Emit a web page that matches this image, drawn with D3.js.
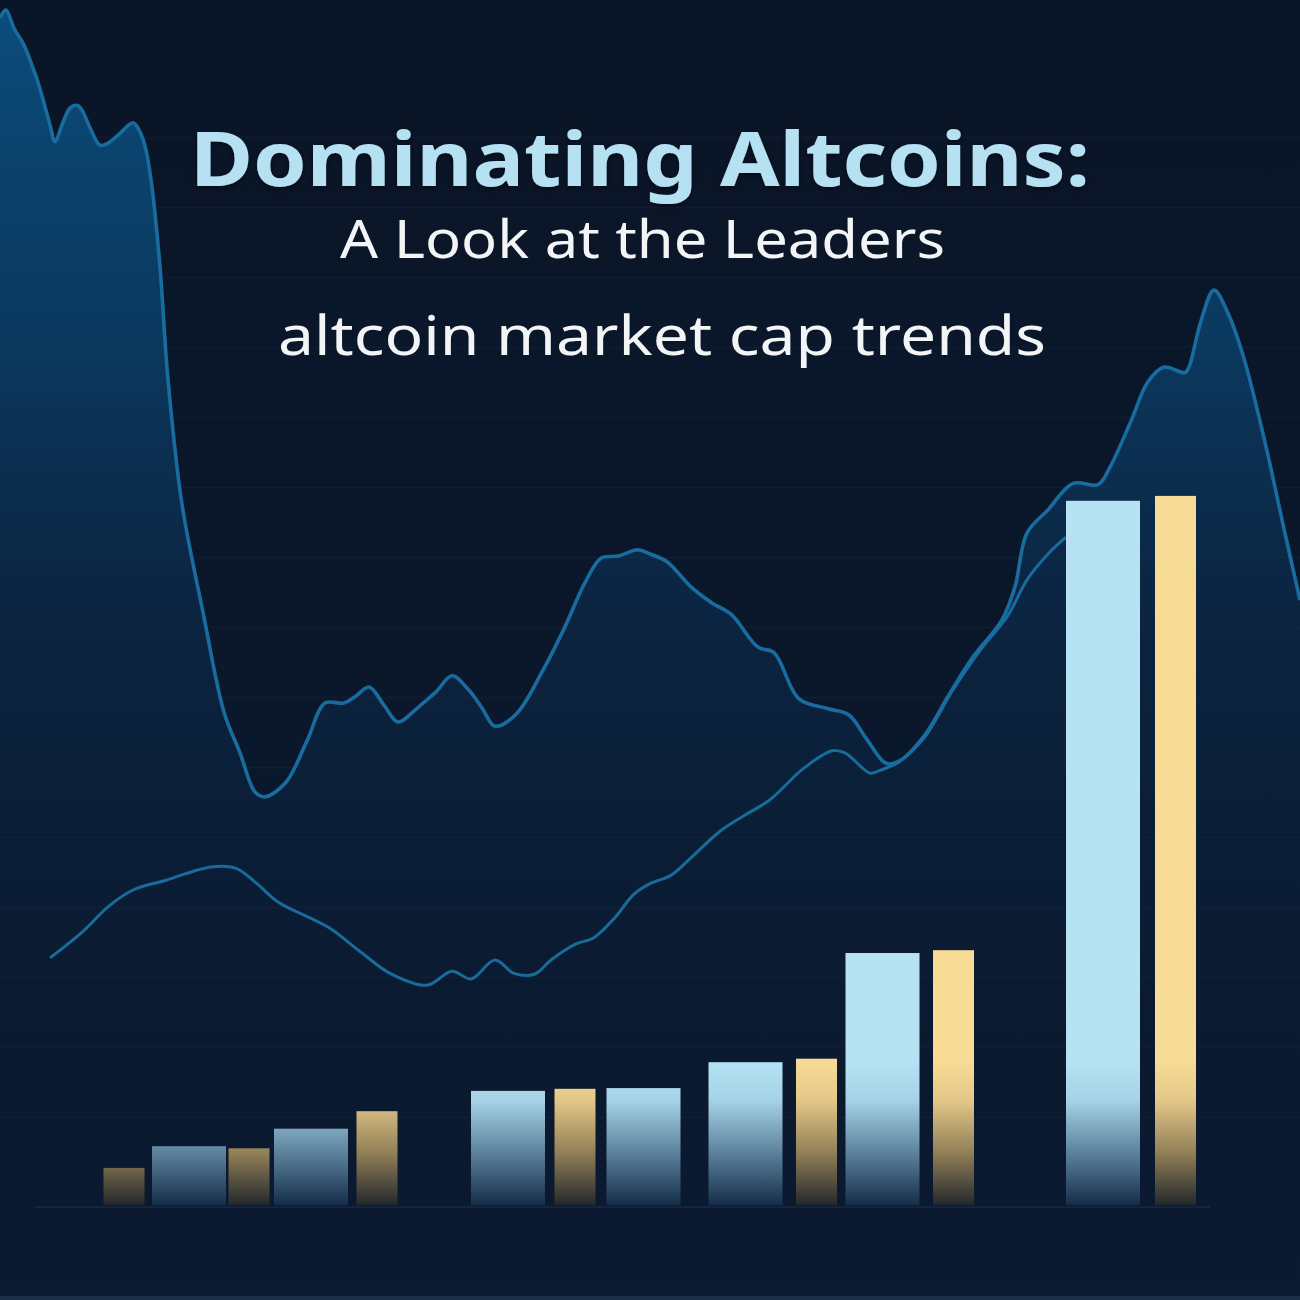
<!DOCTYPE html>
<html>
<head>
<meta charset="utf-8">
<script src="https://cdn.jsdelivr.net/npm/d3@7"></script>
<style>
  html, body { margin: 0; padding: 0; background: #0a1628; }
  svg { display: block; }
</style>
</head>
<body>
<svg id="chart" width="1300" height="1300"></svg>
<script>
// ---------------- DATA ----------------
// x: period index (weeks), y: market-cap index
const lineAPeriods = [0,0.6,1.4,2.4,3.3,3.8,4.4,5.0,5.5,6.2,7.0,7.7,8.2,9.0,10.0,10.8,12.0,13.3,14.0,14.6,15.2,16.0,16.8,18.2,20.3,22.4,24.0,25.5,26.5,28.6,30.7,32.5,34.4,35.5,36.9,38.4,39.8,41.5,42.3,43.6,45.2,46.8,48.2,49.5,51.6,54.3,56.4,58.5,60.1,61.8,63.8,65.0,66.7,69.1,71.2,73.1,75.8,77.4,79.9,82.8,84.9,86.6,88.6,89.9,92.4,94.9,97.3,100.2,101.5,102.7,104.8,107.3,109.8,111.0,113.1,114.8,116.4,118.5,118.9,120.1,121.4,122.8,124.3,126.4,128.4,130.0];
const lineAValues  = [169.6,170.7,168.1,165.7,162.4,160.4,157.4,154.3,151.9,154.3,156.7,157.1,156.4,153.9,151.4,151.7,153.1,154.6,153.3,150.7,145.4,134.0,117.9,100.1,84.7,70.4,64.6,59.0,58.3,60.4,66.3,71.7,71.7,72.6,74.0,71.4,69.0,70.7,71.7,73.3,75.6,73.7,71.0,68.4,70.1,76.4,82.3,88.9,92.4,92.7,93.6,93.0,91.9,88.3,86.0,84.4,79.7,78.9,72.3,70.9,70.0,66.7,63.1,63.4,67.0,72.9,78.3,83.6,88.3,96.0,99.3,103.1,102.9,105.4,112.0,117.6,119.7,118.9,119.7,126.3,130.7,127.4,121.4,109.6,96.6,86.4];

const lineBPeriods = [5.0,8.3,10.8,13.3,16.6,21.1,23.6,25.7,27.8,32.8,36.1,39.0,42.7,45.2,47.1,49.5,51.4,53.5,55.1,57.6,59.3,61.4,63.4,65.0,67.1,69.1,72.0,74.5,77.0,80.3,83.2,84.5,87.0,88.0,89.9,92.4,95.3,98.2,100.7,102.7,104.8,106.6];
const lineBValues  = [35.3,39.1,42.6,45.0,46.4,48.3,48.1,45.9,43.3,39.7,36.1,33.1,31.4,33.4,32.3,35.0,33.1,33.0,35.0,37.3,38.1,40.9,44.4,45.9,47.1,49.6,53.4,55.7,57.9,62.3,64.9,64.6,61.7,62.1,63.3,66.7,73.6,79.6,84.0,89.3,93.0,95.4];

const barSeries  = ["gold","blue","gold","blue","gold","blue","gold","blue","blue","gold","blue","gold","blue","gold"];
const barPeriods = [12.4,18.9,24.9,31.1,37.7,50.8,57.5,64.35,74.55,81.65,88.25,95.35,110.3,117.55];
const barValues  = [5.3,8.4,8.1,10.9,13.4,16.3,16.6,16.7,20.4,20.9,36.0,36.4,100.6,101.3];

const gridValues = [12.5,22.5,32.5,42.5,52.5,62.5,72.5,82.5,92.5,102.5,112.5,122.5,132.5,142.5,152.5];

const titleText = "Dominating Altcoins:";
const subtitleText = "A Look at the Leaders";
const captionText = "altcoin market cap trends";

// ---------------- CHART ----------------
const W = 1300, H = 1300;
const svg = d3.select("#chart");
const defs = svg.append("defs");

const x = d3.scaleLinear().domain([0, 130]).range([0, 1300]);
const y = d3.scaleLinear().domain([0, 1200 / 7]).range([1205, 5]);

// background
const bg = defs.append("linearGradient").attr("id","bg").attr("x1",0).attr("y1",0).attr("x2",0).attr("y2",1);
bg.append("stop").attr("offset",0).attr("stop-color","#0a1527");
bg.append("stop").attr("offset",1).attr("stop-color","#0a1a30");
svg.append("rect").attr("width",W).attr("height",H).attr("fill","url(#bg)");

// area gradient
const ag = defs.append("linearGradient").attr("id","areaGrad")
  .attr("gradientUnits","userSpaceOnUse").attr("x1",0).attr("y1",0).attr("x2",0).attr("y2",1150);
ag.append("stop").attr("offset",0).attr("stop-color","#0b4f80").attr("stop-opacity",0.95);
ag.append("stop").attr("offset",0.3).attr("stop-color","#0b4470").attr("stop-opacity",0.75);
ag.append("stop").attr("offset",0.55).attr("stop-color","#0c3259").attr("stop-opacity",0.45);
ag.append("stop").attr("offset",0.8).attr("stop-color","#0c2746").attr("stop-opacity",0.25);
ag.append("stop").attr("offset",1).attr("stop-color","#0a1a30").attr("stop-opacity",0);

// grid lines
svg.append("g").selectAll("line").data(gridValues).join("line")
  .attr("x1",0).attr("x2",W)
  .attr("y1",d=>y(d)).attr("y2",d=>y(d))
  .attr("stroke","#1a2d45").attr("stroke-opacity",0.3).attr("stroke-width",1.5);

const ptsA = lineAPeriods.map((p,i)=>[p,lineAValues[i]]);
const ptsB = lineBPeriods.map((p,i)=>[p,lineBValues[i]]);

const curve = d3.curveCatmullRom.alpha(0.5);
const area = d3.area().x(d=>x(d[0])).y0(1300).y1(d=>y(d[1])).curve(curve);
const line = d3.line().x(d=>x(d[0])).y(d=>y(d[1])).curve(curve);

svg.append("path").datum(ptsA).attr("d",area).attr("fill","url(#areaGrad)");

// lower line
svg.append("path").datum(ptsB).attr("d",line)
  .attr("fill","none").attr("stroke","#196b9c").attr("stroke-width",3)
  .attr("stroke-linejoin","round");
// upper line
svg.append("path").datum(ptsA).attr("d",line)
  .attr("fill","none").attr("stroke","#196c9f").attr("stroke-width",3.6)
  .attr("stroke-linejoin","round");

// baseline
svg.append("line").attr("x1",35).attr("x2",1210).attr("y1",y(0)+2).attr("y2",y(0)+2)
  .attr("stroke","#13263e").attr("stroke-width",2);

// bar gradients (user space so small bars are dimmer)
const barStops = {
  blue: ["#152e49", "#5a7f9a", "#a5d2e6", "#b6e2f4"],
  gold: ["#23282c", "#8f7d55", "#e3c788", "#f8dc95"]
};
Object.entries(barStops).forEach(([k,s])=>{
  const g = defs.append("linearGradient").attr("id","bar-"+k)
    .attr("gradientUnits","userSpaceOnUse").attr("x1",0).attr("y1",y(0)).attr("x2",0).attr("y2",y(0)-145);
  g.append("stop").attr("offset",0).attr("stop-color", s[0]);
  g.append("stop").attr("offset",0.35).attr("stop-color", s[1]);
  g.append("stop").attr("offset",0.72).attr("stop-color", s[2]);
  g.append("stop").attr("offset",1).attr("stop-color", s[3]);
});
const barWidth = { blue: 7.4, gold: 4.1 };

svg.append("g").selectAll("rect").data(barValues).join("rect")
  .attr("x",(d,i)=>x(barPeriods[i] - barWidth[barSeries[i]]/2))
  .attr("width",(d,i)=>x(barWidth[barSeries[i]]) - x(0))
  .attr("y",d=>y(d))
  .attr("height",d=>y(0)-y(d))
  .attr("fill",(d,i)=>"url(#bar-"+barSeries[i]+")");

// bottom border
svg.append("rect").attr("x",0).attr("y",1296).attr("width",W).attr("height",4).attr("fill","#1c2f47");

// titles
const shadow = defs.append("filter").attr("id","glow").attr("x","-10%").attr("y","-30%").attr("width","120%").attr("height","160%");
shadow.append("feDropShadow").attr("dx",0).attr("dy",2).attr("stdDeviation",3).attr("flood-color","#000").attr("flood-opacity",0.5);

svg.append("text").text(titleText)
  .attr("x",190).attr("y",186)
  .attr("textLength",900).attr("lengthAdjust","spacingAndGlyphs")
  .attr("font-family","'Noto Sans', 'Open Sans', sans-serif").attr("font-weight",700)
  .attr("font-size",75).attr("fill","#b6e1f3").attr("filter","url(#glow)");

svg.append("text").text(subtitleText)
  .attr("x",340).attr("y",258)
  .attr("textLength",605).attr("lengthAdjust","spacingAndGlyphs")
  .attr("font-family","'Noto Sans', 'Open Sans', sans-serif").attr("font-weight",400)
  .attr("font-size",52).attr("fill","#f2f4f6");

svg.append("text").text(captionText)
  .attr("x",278).attr("y",355)
  .attr("textLength",768).attr("lengthAdjust","spacingAndGlyphs")
  .attr("font-family","'Noto Sans', 'Open Sans', sans-serif").attr("font-weight",400)
  .attr("font-size",54).attr("fill","#f2f4f6");
</script>
</body>
</html>
